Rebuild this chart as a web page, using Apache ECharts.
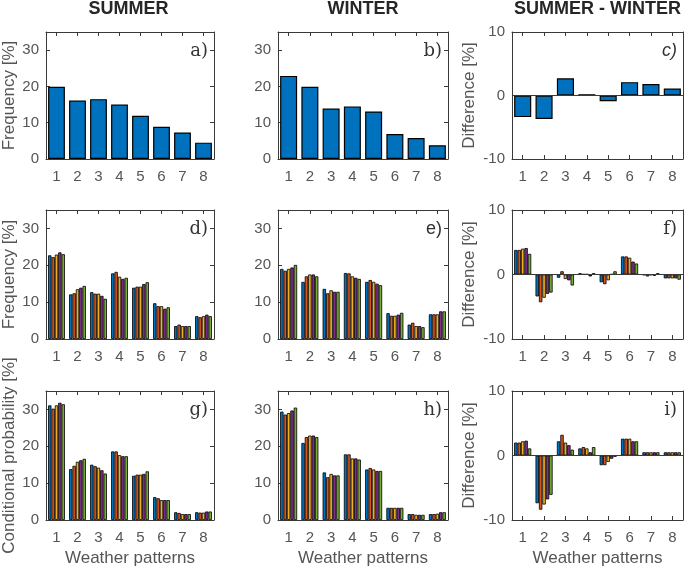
<!DOCTYPE html>
<html>
<head>
<meta charset="utf-8">
<script src="https://cdn.jsdelivr.net/npm/echarts@6/dist/echarts.min.js"></script>
<style>
html,body{margin:0;padding:0;background:#fff;}
#chart{width:685px;height:569px;}
</style>
</head>
<body>
<div id="chart"></div>
<script>
// ---------- DATA ----------
const categories = ['1','2','3','4','5','6','7','8'];
const columnTitles = ['SUMMER', 'WINTER', 'SUMMER - WINTER'];
const panelLetters = ['a)','b)','c)','d)','e)','f)','g)','h)','i)'];
const yTicksFreq = [0, 10, 20, 30];
const yTicksDiff = [-10, 0, 10];

// Row 1: overall frequency of weather patterns
const freqSummer = [19.9, 16.1, 16.5, 15.0, 11.9, 8.9, 7.3, 4.5];
const freqWinter = [22.9, 19.9, 13.9, 14.5, 13.1, 6.9, 5.8, 3.8];
const freqDiff   = [-3.4, -3.7, 2.7, 0.2, -0.9, 2.1, 1.8, 1.1];

// Row 2: frequency, 5 sub-series per pattern (one row per pattern)
const subFreqSummer = [
  [22.7, 22.2, 22.9, 23.5, 23.0],
  [12.1, 12.4, 13.5, 13.9, 14.4],
  [12.7, 12.3, 12.3, 11.7, 10.9],
  [17.8, 18.2, 16.9, 16.3, 16.6],
  [13.9, 14.2, 14.2, 14.9, 15.4],
  [9.7, 8.9, 8.9, 8.2, 8.6],
  [3.5, 3.9, 3.5, 3.5, 3.5],
  [6.2, 5.9, 6.2, 6.6, 6.2]
];
const subFreqWinter = [
  [19.0, 18.5, 19.0, 19.4, 20.1],
  [15.5, 17.0, 17.5, 17.5, 17.0],
  [13.6, 12.4, 13.2, 12.8, 12.8],
  [17.9, 17.8, 17.0, 16.6, 16.3],
  [15.5, 16.0, 15.5, 15.0, 14.6],
  [7.0, 6.3, 6.3, 6.6, 7.1],
  [3.9, 4.4, 3.5, 3.5, 3.2],
  [6.7, 6.7, 6.7, 7.5, 7.5]
];
const subFreqDiff = [
  [3.8, 3.8, 4.0, 4.1, 3.2],
  [-3.4, -4.3, -3.6, -3.0, -2.8],
  [-0.5, 0.5, -0.7, -0.9, -1.7],
  [0.2, 0.05, 0.05, -0.3, 0.2],
  [-1.2, -1.5, -0.9, 0.05, 0.5],
  [2.8, 2.8, 2.6, 2.0, 1.7],
  [-0.1, -0.3, -0.1, -0.2, 0.2],
  [-0.6, -0.6, -0.6, -0.6, -0.8]
];

// Row 3: conditional probability, 5 sub-series per pattern
const condSummer = [
  [31.1, 30.2, 31.1, 31.8, 31.4],
  [13.8, 14.7, 15.8, 16.2, 16.6],
  [15.0, 14.6, 14.2, 13.5, 12.6],
  [18.6, 18.6, 17.6, 17.3, 17.3],
  [12.0, 12.3, 12.3, 12.5, 13.2],
  [6.2, 5.9, 5.4, 5.4, 5.4],
  [2.1, 1.9, 1.6, 1.6, 1.6],
  [2.1, 2.0, 2.0, 2.3, 2.3]
];
const condWinter = [
  [29.4, 28.6, 29.0, 29.7, 30.5],
  [20.9, 22.5, 22.9, 22.9, 22.5],
  [12.9, 11.6, 12.5, 12.1, 12.1],
  [17.8, 17.8, 16.7, 16.7, 16.4],
  [13.7, 14.1, 13.7, 13.3, 13.3],
  [3.3, 3.3, 3.3, 3.3, 3.3],
  [1.6, 1.6, 1.4, 1.4, 1.4],
  [1.6, 1.6, 1.7, 2.1, 2.1]
];
const condDiff = [
  [2.0, 2.0, 2.2, 2.3, 1.1],
  [-7.4, -8.4, -7.6, -6.8, -6.1],
  [2.2, 3.2, 2.0, 1.6, 0.9],
  [1.1, 1.3, 1.1, 0.5, 1.3],
  [-1.5, -1.5, -1.0, -0.5, -0.2],
  [2.6, 2.6, 2.6, 2.2, 2.2],
  [0.5, 0.5, 0.5, 0.5, 0.5],
  [0.5, 0.5, 0.5, 0.5, 0.5]
];
const subSeriesNames = ['S1', 'S2', 'S3', 'S4', 'S5'];

// ---------- STYLE / LAYOUT ----------
const singleColor = '#0072BD';
const groupColors = ['#0072BD', '#D95319', '#EDB120', '#7E2F8E', '#77AC30'];
const lefts = [43, 278, 512];
const widths = [171, 170, 171];
const tops = [32, 210, 391];
const heights = [127, 129, 129];
const FONT = 'Liberation Sans, Arial, sans-serif';
const axisColor = '#3a3a3a';
const labelColor = '#555555';

const panels = [
  {data: freqSummer, grouped: false, diff: false, yName: 'Frequency [%]', gap: 28},
  {data: freqWinter, grouped: false, diff: false, yName: ''},
  {data: freqDiff, grouped: false, diff: true, yName: 'Difference [%]', gap: 34},
  {data: subFreqSummer, grouped: true, diff: false, yName: 'Frequency [%]', gap: 28},
  {data: subFreqWinter, grouped: true, diff: false, yName: ''},
  {data: subFreqDiff, grouped: true, diff: true, yName: 'Difference [%]', gap: 34},
  {data: condSummer, grouped: true, diff: false, yName: 'Conditional probability [%]', gap: 28},
  {data: condWinter, grouped: true, diff: false, yName: ''},
  {data: condDiff, grouped: true, diff: true, yName: 'Difference [%]', gap: 34}
];

const option = {
  animation: false,
  backgroundColor: '#ffffff',
  grid: [], xAxis: [], yAxis: [], series: [], graphic: []
};

const tickStyle = {show: true, inside: true, length: 4, lineStyle: {color: axisColor, width: 1}};
const lineStyle = {color: axisColor, width: 1};

panels.forEach((p, k) => {
  const r = Math.floor(k / 3), c = k % 3;
  option.grid.push({left: lefts[c], top: tops[r], width: widths[c], height: heights[r], containLabel: false});
  const ticks = p.diff ? yTicksDiff : yTicksFreq;
  const ymin = p.diff ? -10 : 0;
  const ymax = p.diff ? 10 : 35;
  const xi = option.xAxis.length, yi = option.yAxis.length;
  option.xAxis.push({
    gridIndex: k, type: 'category', data: categories, position: 'bottom',
    axisLine: {show: true, onZero: false, lineStyle},
    axisTick: Object.assign({alignWithLabel: true}, tickStyle),
    axisLabel: {show: true, color: labelColor, fontFamily: FONT, fontSize: 15, margin: 10},
    name: r === 2 ? 'Weather patterns' : '',
    nameLocation: 'middle', nameGap: 30,
    nameTextStyle: {color: labelColor, fontFamily: FONT, fontSize: 17}
  });
  option.xAxis.push({
    gridIndex: k, type: 'category', data: categories, position: 'top',
    axisLine: {show: true, onZero: false, lineStyle},
    axisTick: Object.assign({alignWithLabel: true}, tickStyle),
    axisLabel: {show: false}
  });
  option.yAxis.push({
    gridIndex: k, type: 'value', min: ymin, max: ymax, interval: 10, position: 'left',
    axisLine: {show: true, onZero: false, lineStyle},
    axisTick: tickStyle,
    splitLine: {show: false},
    axisLabel: {show: true, color: labelColor, fontFamily: FONT, fontSize: 15, margin: 7,
      showMaxLabel: p.diff, showMinLabel: true,
      formatter: v => (ticks.indexOf(v) >= 0 ? String(v) : '')},
    name: p.yName, nameLocation: 'middle', nameGap: p.gap || 28, nameRotate: 90,
    nameTextStyle: {color: labelColor, fontFamily: FONT, fontSize: 17}
  });
  option.yAxis.push({
    gridIndex: k, type: 'value', min: ymin, max: ymax, interval: 10, position: 'right',
    axisLine: {show: true, onZero: false, lineStyle},
    axisTick: tickStyle,
    splitLine: {show: false},
    axisLabel: {show: false}
  });

  const zeroLine = p.diff ? {
    silent: true, symbol: ['none', 'none'], label: {show: false},
    lineStyle: {color: axisColor, width: 1, type: 'solid'},
    data: [{yAxis: 0}]
  } : undefined;

  if (!p.grouped) {
    option.series.push({
      type: 'bar', xAxisIndex: xi, yAxisIndex: yi, data: p.data,
      barCategoryGap: '20%',
      itemStyle: {color: singleColor, borderColor: '#000', borderWidth: 1.2},
      markLine: zeroLine
    });
  } else {
    subSeriesNames.forEach((nm, s) => {
      option.series.push({
        name: nm, type: 'bar', xAxisIndex: xi, yAxisIndex: yi,
        data: p.data.map(g => g[s]),
        barGap: '0%', barCategoryGap: '20%',
        itemStyle: {color: groupColors[s], borderColor: '#000', borderWidth: 0.8},
        markLine: s === 0 ? zeroLine : undefined
      });
    });
  }

  // panel letter
  const serifLetter = !(k === 2 || k === 4);
  option.graphic.push({
    type: 'text', x: lefts[c] + widths[c] - 6, y: tops[r] + 10,
    style: {text: panelLetters[k], textAlign: 'right', textVerticalAlign: 'top',
      fill: '#333',
      font: (k === 2 ? 'italic ' : '') + '18px ' + (serifLetter ? 'DejaVu Serif, serif' : FONT)}
  });
});

columnTitles.forEach((t, c) => {
  option.graphic.push({
    type: 'text', x: lefts[c] + widths[c] / 2, y: 9,
    style: {text: t, textAlign: 'center', textVerticalAlign: 'middle',
      fill: '#262626', font: 'bold 18px ' + FONT}
  });
});

const chart = echarts.init(document.getElementById('chart'), null, {renderer: 'canvas'});
chart.setOption(option);
</script>
</body>
</html>
